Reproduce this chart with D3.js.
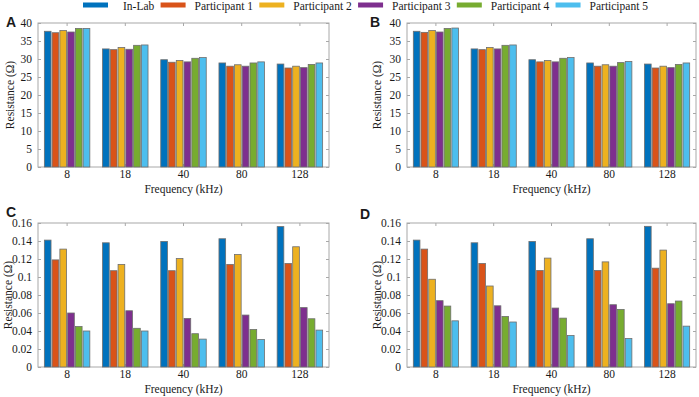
<!DOCTYPE html>
<html>
<head>
<meta charset="utf-8">
<script src="https://cdn.jsdelivr.net/npm/d3@7"></script>
<style>
  body { margin: 0; background: #fff; }
  svg text { font-family: "Liberation Serif", "DejaVu Serif Condensed", "DejaVu Serif", serif; font-stretch: condensed; fill: #1a1a1a; }
  svg text.letter { font-family: "Liberation Sans", Arial, "DejaVu Sans", sans-serif; font-stretch: normal; font-weight: bold; }
</style>
</head>
<body>
<svg id="chart" width="699" height="397"></svg>
<script>
const categories = ["8", "18", "40", "80", "128"]
const seriesNames = ["In-Lab", "Participant 1", "Participant 2", "Participant 3", "Participant 4", "Participant 5"]
const palette = ["#0072bd", "#d95319", "#edb120", "#7e2f8e", "#77ac30", "#4dbeee"]

// one row per frequency, one value per series
const panelA = [
  [37.7, 37.3, 37.9, 37.5, 38.5, 38.5],
  [32.8, 32.6, 33.2, 32.7, 33.8, 33.9],
  [29.8, 29.1, 29.6, 29.2, 30.2, 30.4],
  [28.9, 28.0, 28.4, 28.0, 28.9, 29.2],
  [28.6, 27.5, 28.0, 27.6, 28.5, 28.9]
]
const panelB = [
  [37.7, 37.4, 37.9, 37.5, 38.5, 38.6],
  [32.8, 32.6, 33.2, 32.8, 33.8, 33.9],
  [29.8, 29.2, 29.6, 29.2, 30.2, 30.4],
  [28.9, 28.0, 28.4, 28.0, 29.0, 29.3],
  [28.6, 27.5, 28.0, 27.6, 28.5, 28.9]
]
const panelC = [
  [0.141, 0.119, 0.131, 0.060, 0.045, 0.040],
  [0.138, 0.107, 0.114, 0.0625, 0.043, 0.040],
  [0.1395, 0.107, 0.1205, 0.054, 0.037, 0.031],
  [0.1425, 0.114, 0.125, 0.0577, 0.0417, 0.0305],
  [0.156, 0.115, 0.1336, 0.066, 0.0536, 0.041]
]
const panelD = [
  [0.141, 0.131, 0.0975, 0.0737, 0.0677, 0.0513],
  [0.138, 0.115, 0.090, 0.068, 0.0562, 0.050],
  [0.1395, 0.1072, 0.121, 0.0655, 0.0543, 0.035],
  [0.1425, 0.1072, 0.1168, 0.0692, 0.064, 0.0316],
  [0.1563, 0.1098, 0.1299, 0.0703, 0.0733, 0.0454]
]
const ticksTop = [0, 5, 10, 15, 20, 25, 30, 35, 40]
const ticksBottom = [0, 0.02, 0.04, 0.06, 0.08, 0.1, 0.12, 0.14, 0.16]

const FRAME = "#a8a8a8"
const FS = 11.5
const svg = d3.select("#chart")

function drawPanel(cfg) {
  let x0 = d3.scaleBand().domain(categories).range([cfg.left, cfg.right]).padding(0)
  let x1 = d3.scaleBand().domain(seriesNames)
    .range([x0.bandwidth() * 0.1, x0.bandwidth() * 0.9])
    .paddingInner(0.14).paddingOuter(0.07)
  let y = d3.scaleLinear().domain([0, d3.max(cfg.ticks)]).range([cfg.bottom, cfg.top])

  let g = svg.append("g")

  // frame
  g.append("rect")
    .attr("x", cfg.left).attr("y", cfg.top)
    .attr("width", cfg.right - cfg.left).attr("height", cfg.bottom - cfg.top)
    .attr("fill", "none").attr("stroke", FRAME).attr("stroke-width", 1)

  // inward ticks, all four sides
  let yl = d3.axisLeft(y).tickValues(cfg.ticks).tickSize(-3).tickPadding(6).tickFormat(d => d)
  let yr = d3.axisRight(y).tickValues(cfg.ticks).tickSize(-3).tickFormat("")
  let xb = d3.axisBottom(x0).tickSize(-3).tickPadding(3)
  let xt = d3.axisTop(x0).tickSize(-3).tickFormat("")

  let axes = [
    g.append("g").attr("transform", `translate(${cfg.left},0)`).call(yl),
    g.append("g").attr("transform", `translate(${cfg.right},0)`).call(yr),
    g.append("g").attr("transform", `translate(0,${cfg.bottom})`).call(xb),
    g.append("g").attr("transform", `translate(0,${cfg.top})`).call(xt)
  ]
  axes.forEach(a => {
    a.attr("font-family", null).attr("font-size", FS)
    a.select(".domain").remove()
    a.selectAll(".tick line").attr("stroke", FRAME)
    a.selectAll(".tick text").attr("fill", "#1a1a1a")
  })

  // bars
  let groups = g.selectAll(".grp")
    .data(cfg.data)
    .join("g")
    .attr("transform", (d, i) => `translate(${x0(categories[i])},0)`)

  groups.selectAll("rect")
    .data(d => d.map((v, k) => ({ key: seriesNames[k], value: v, k: k })))
    .join("rect")
    .attr("x", d => x1(d.key))
    .attr("width", x1.bandwidth())
    .attr("y", d => y(d.value))
    .attr("height", d => y(0) - y(d.value))
    .attr("fill", d => palette[d.k])
    .attr("stroke", "#6e6e6e")
    .attr("stroke-width", 0.8)

  // labels
  g.append("text")
    .attr("x", (cfg.left + cfg.right) / 2)
    .attr("y", cfg.bottom + 26)
    .attr("text-anchor", "middle")
    .style("font-size", FS + "px")
    .text("Frequency (kHz)")

  g.append("text")
    .attr("transform", `translate(${cfg.titleX},${(cfg.top + cfg.bottom) / 2}) rotate(-90)`)
    .attr("text-anchor", "middle")
    .style("font-size", FS + "px")
    .text("Resistance (\u03a9)")

  g.append("text")
    .attr("class", "letter")
    .attr("x", cfg.letterX)
    .attr("y", cfg.letterY)
    .style("font-size", "14px")
    .text(cfg.letter)
}

drawPanel({ letter: "A", letterX: 6, letterY: 27, titleX: 14, left: 38, right: 329, top: 23, bottom: 167, data: panelA, ticks: ticksTop })
drawPanel({ letter: "B", letterX: 370, letterY: 27, titleX: 381, left: 407, right: 696, top: 23, bottom: 167, data: panelB, ticks: ticksTop })
drawPanel({ letter: "C", letterX: 6, letterY: 217, titleX: 12, left: 38, right: 329, top: 223, bottom: 367, data: panelC, ticks: ticksBottom })
drawPanel({ letter: "D", letterX: 360, letterY: 219, titleX: 381, left: 407, right: 696, top: 223, bottom: 367, data: panelD, ticks: ticksBottom })

// legend across the top, spread from x=83 to x=648
let legend = svg.append("g").attr("transform", "translate(83,0)")
let items = seriesNames.map((name, i) => {
  let t = legend.append("text")
    .attr("y", 9.5)
    .style("font-size", FS + "px")
    .text(name)
  return { t: t, w: t.node().getComputedTextLength(), lead: i === 0 ? 40 : 34 }
})
let used = d3.sum(items, d => d.lead + d.w)
let gap = Math.max(6, (565 - used) / (items.length - 1))
let lx = 0
items.forEach((it, i) => {
  legend.append("rect")
    .attr("x", lx).attr("y", 2.5)
    .attr("width", 25).attr("height", 5)
    .attr("fill", palette[i])
  it.t.attr("x", lx + it.lead)
  lx += it.lead + it.w + gap
})
</script>
</body>
</html>
